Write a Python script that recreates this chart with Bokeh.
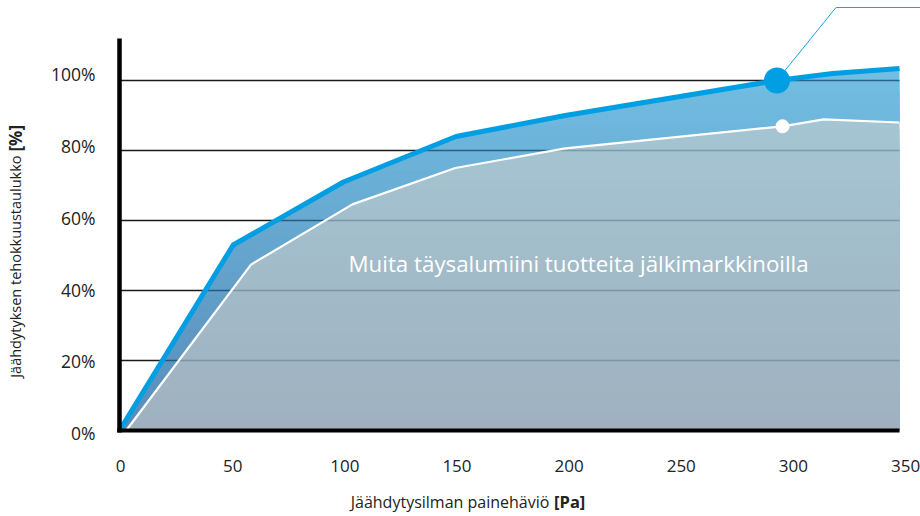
import numpy as np
from bokeh.plotting import figure
from bokeh.models import Range1d
from bokeh.embed import file_html
from bokeh.resources import INLINE
from bokeh.core.properties import value

# ---------------- data ----------------
blue_x = [0, 51, 100.5, 151, 200, 295, 320, 350]
blue_y = [0, 53, 71, 84, 90, 100, 102, 103.4]
white_x = [3, 59, 104.5, 150.7, 200, 297.5, 316, 350]
white_y = [0, 47.4, 64.6, 75, 80.6, 86.9, 88.9, 88]
highlight_index = 5

x_ticks = [0, 50, 100, 150, 200, 250, 300, 350]
x_tick_labels = [str(v) for v in x_ticks]
y_ticks = [0, 20, 40, 60, 80, 100]
y_tick_labels = ["0%", "20%", "40%", "60%", "80%", "100%"]

area_text = "Muita täysalumiini tuotteita jälkimarkkinoilla"
x_title = "Jäähdytysilman painehäviö"
x_unit = "[Pa]"
y_title = "Jäähdytyksen tehokkuustaulukko"
y_unit = "[%]"

# ---------------- style ----------------
FONT = "Open Sans"
TXT = "#222222"
BLUE = "#009fe3"
LOWER_BOTTOM = (159, 177, 191)
LOWER_TOP = (165, 197, 211)
UPPER_BOTTOM = (88, 140, 184)
UPPER_TOP = (114, 190, 227)


def mix(a, b, f):
    f = min(max(f, 0.0), 1.0)
    return "#%02x%02x%02x" % tuple(int(round(a[i] + (b[i] - a[i]) * f)) for i in range(3))


def crossings(xs, ys, t):
    out = []
    for i in range(len(xs) - 1):
        y0, y1 = ys[i], ys[i + 1]
        if (y0 - t) * (y1 - t) < 0:
            out.append(xs[i] + (t - y0) * (xs[i + 1] - xs[i]) / (y1 - y0))
    return out


def first_reach(xs, ys, t):
    for i in range(len(xs) - 1):
        y0, y1 = ys[i], ys[i + 1]
        if y0 <= t <= y1 and y1 != y0:
            return xs[i] + (t - y0) * (xs[i + 1] - xs[i]) / (y1 - y0)
    return xs[-1]


p = figure(width=920, height=516, output_backend="svg", toolbar_location=None,
           x_range=Range1d(-53.397, 359.42), y_range=Range1d(-24.571, 122.857),
           x_axis_type=None, y_axis_type=None,
           min_border_left=0, min_border_right=0, min_border_top=0, min_border_bottom=0)
p.outline_line_color = None
p.background_fill_color = "white"
p.border_fill_color = "white"
# ranges used to place the tick labels
p.extra_x_ranges = {"xt": Range1d(-53.50, 356.66)}
p.extra_y_ranges = {"yt": Range1d(-23.29, 120.64)}

grid0 = set(blue_x) | set(white_x)
N = 32

# lower area (under white line) - vertical gradient
lower_top = max(white_y)
for k in range(N):
    t = lower_top * (N - k) / N
    col = mix(LOWER_BOTTOM, LOWER_TOP, (t - lower_top / (2 * N)) / lower_top)
    g = np.array(sorted(grid0 | set(crossings(white_x, white_y, t))))
    wy = np.interp(g, white_x, white_y)
    p.varea(x=g, y1=np.zeros_like(g), y2=np.minimum(wy, t), fill_color=col)

# upper area (between white and blue line)
upper_top = max(blue_y)
for k in range(N):
    t = upper_top * (N - k) / N
    col = mix(UPPER_BOTTOM, UPPER_TOP, (t - upper_top / (2 * N)) / upper_top)
    g = np.array(sorted(grid0 | set(crossings(blue_x, blue_y, t)) | set(crossings(white_x, white_y, t))))
    wy = np.interp(g, white_x, white_y)
    by = np.interp(g, blue_x, blue_y)
    p.varea(x=g, y1=wy, y2=np.maximum(wy, np.minimum(by, t)), fill_color=col)

# grid lines, tinted by the region they cross
x_end = x_ticks[-1]
dark, up, lo = ([], [], [], []), ([], [], [], []), ([], [], [], [])
for gv in y_ticks[1:]:
    xb = first_reach(blue_x, blue_y, gv)
    xw = first_reach(white_x, white_y, gv)
    for seg, a, b in ((dark, 0, xb), (up, xb, xw), (lo, xw, x_end)):
        if b > a:
            seg[0].append(a); seg[1].append(gv); seg[2].append(b); seg[3].append(gv)
p.segment(x0=dark[0], y0=dark[1], x1=dark[2], y1=dark[3], line_color="#1a1a1a", line_width=1.5)
p.segment(x0=up[0], y0=up[1], x1=up[2], y1=up[3], line_color="#0b3f63", line_alpha=0.7, line_width=1.5)
p.segment(x0=lo[0], y0=lo[1], x1=lo[2], y1=lo[3], line_color="#0d2a3d", line_alpha=0.25, line_width=1.5)

# series lines
p.line(white_x, white_y, line_color="white", line_width=2.2)
p.line(blue_x, blue_y, line_color=BLUE, line_width=5)

# leader line from highlighted point
hx, hy = blue_x[highlight_index], blue_y[highlight_index]
lead_top = 120.86
lead_dx = (lead_top - hy) * 1.27
p.line([hx, hx + lead_dx, 359.4], [hy, lead_top, lead_top], line_color="#1ba0dd", line_width=1)

p.scatter([hx], [hy], size=26, fill_color=BLUE, line_color=None)
p.scatter([white_x[highlight_index]], [white_y[highlight_index]], size=14, fill_color="white", line_color=None)

# axis lines
p.line([0, 0], [-0.6, 112], line_color="black", line_width=4.5)
p.line([-1, x_end], [0, 0], line_color="black", line_width=4)

# tick labels
p.text(x=x_ticks, y=[-10] * len(x_ticks), text=x_tick_labels, x_range_name="xt",
       text_align="center", text_baseline="middle", text_color=TXT,
       text_font=value(FONT), text_font_size="17px")
p.text(x=[-10.77] * len(y_ticks), y=y_ticks, text=y_tick_labels, y_range_name="yt",
       text_align="right", text_baseline="middle", text_color=TXT,
       text_font=value(FONT), text_font_size="17.5px")

# texts
p.text(x=[206], y=[47.7], text=[area_text], text_align="center", text_baseline="middle",
       text_color="white", text_font=value(FONT), text_font_size="22.3px")
p.text(x=[192.9], y=[-20.4], text=[x_title], text_align="right", text_baseline="middle",
       text_color=TXT, text_font=value(FONT), text_font_size="16px")
p.text(x=[195.0], y=[-20.4], text=[x_unit], text_align="left", text_baseline="middle",
       text_color=TXT, text_font=value(FONT), text_font_size="16.5px", text_font_style="bold")
p.text(x=[-46.67], y=[78.57], text=[y_title], text_align="right", text_baseline="middle", angle=np.pi / 2,
       text_color=TXT, text_font=value(FONT), text_font_size="14.5px")
p.text(x=[-46.67], y=[79.71], text=[y_unit], text_align="left", text_baseline="middle", angle=np.pi / 2,
       text_color=TXT, text_font=value(FONT), text_font_size="17px", text_font_style="bold")

open("out.html", "w").write(file_html(p, INLINE))
